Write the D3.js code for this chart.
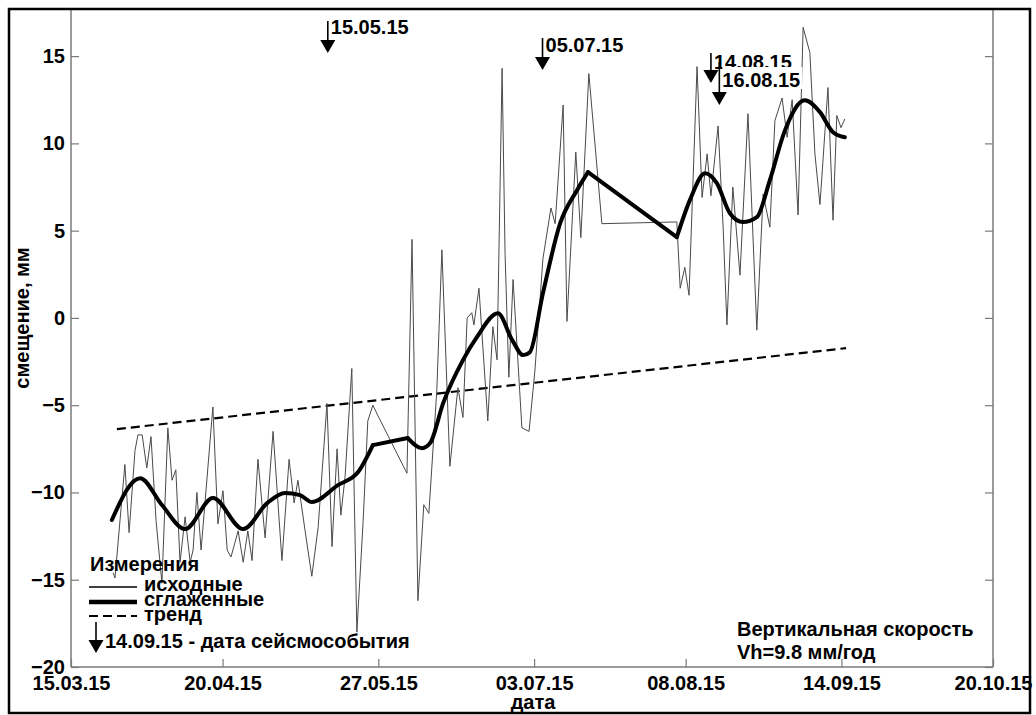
<!DOCTYPE html>
<html>
<head>
<meta charset="utf-8">
<script src="https://cdn.jsdelivr.net/npm/d3@7"></script>
<style>
  html, body { margin: 0; padding: 0; background: #fff; }
  svg text { font-family: "Liberation Sans", Arial, sans-serif; font-weight: bold; font-size: 20px; fill: #000; }
</style>
</head>
<body>
<svg id="chart" width="1036" height="715"></svg>
<script>
// Observation period start (day offsets below count from this date)
const startDay = "2015-03-15";

// Raw measurements: day offset and vertical displacement, mm
const rawDays = [10.0, 10.45, 12.8, 13.8, 15.2, 15.9, 16.9, 18.0, 19.0, 20.2, 21.6, 23.0, 24.0, 24.9, 25.9,
  27.1, 27.8, 28.3, 29.0, 29.9, 30.9, 33.7, 34.9, 36.1, 37.1, 38.0, 39.7, 40.9, 42.0, 43.0, 44.4, 46.1,
  48.0, 50.1, 51.8, 53.0, 53.9, 55.6, 57.2, 58.7, 60.8, 62.0, 63.2, 64.1, 65.1, 66.7, 67.9, 69.4, 70.5,
  71.7, 72.9, 79.8, 81.0, 82.4, 83.8, 85.0, 86.9, 88.1, 90.0, 91.9, 93.1, 94.1, 95.2, 95.7, 96.9, 99.0,
  100.2, 101.2, 102.4, 103.1, 104.0, 105.0, 107.1, 108.8, 110.2, 112.1, 114.0, 115.0, 116.9, 117.8,
  119.9, 121.1, 123.0, 126.1, 143.9, 144.7, 145.8, 146.8, 148.7, 149.9, 151.1, 152.0, 153.7, 154.9,
  155.8, 157.2, 158.9, 160.8, 162.9, 164.4, 166.0, 167.2, 168.9, 170.1, 171.3, 172.7, 173.9, 175.5,
  176.7, 177.9, 179.8, 181.0, 181.9, 182.9, 183.8];
const rawValues = [-14.6, -14.9, -8.4, -12.3, -7.6, -6.7, -6.7, -8.6, -6.8, -11.6, -15.2, -6.3, -9.3, -8.7, -14.0,
  -11.4, -12.9, -14.0, -13.3, -10.0, -13.3, -5.1, -11.8, -9.9, -13.3, -13.7, -12.2, -14.0, -12.2, -13.9, -8.1, -12.6,
  -6.5, -13.9, -8.1, -10.6, -9.3, -12.2, -14.8, -12.0, -4.9, -13.1, -7.5, -11.3, -9.1, -2.9, -18.0, -11.6, -5.9,
  -5.0, -5.6, -8.9, 4.5, -16.2, -10.7, -11.2, -4.1, 3.9, -8.5, -4.0, -5.7, 0.0, 0.3, -0.4, 1.7, -5.9,
  -0.5, -2.4, 14.3, 3.7, -3.4, 2.2, -6.3, -6.5, -3.0, 3.4, 6.3, 5.4, 12.2, -0.2,
  9.5, 4.6, 14.0, 5.4, 5.5, 1.7, 2.9, 1.3, 14.4, 6.9, 9.4, 7.0, 11.0, 5.2,
  -0.4, 7.5, 2.45, 11.7, -0.7, 7.1, 5.2, 11.3, 12.6, 10.35, 12.5, 5.9, 16.65, 15.2,
  9.4, 6.5, 13.2, 5.6, 11.6, 10.9, 11.4];

// Smoothed series
const smoothDays = [9.7, 16.4, 21.6, 27.1, 33.7, 40.9, 46.6, 50.8, 54.4, 57.2, 63.4, 68.2, 71.7, 80.0, 83.4,
  85.3, 88.4, 93.1, 96.4, 101.4, 104.8, 107.4, 109.0, 112.1, 116.2, 120.2, 122.8, 143.9, 147.0, 150.6,
  153.4, 156.5, 159.6, 162.9, 166.0, 169.6, 174.3, 177.9, 181.0, 183.8];
const smoothValues = [-11.58, -9.18, -10.72, -12.10, -10.32, -12.10, -10.61, -10.03, -10.15, -10.55, -9.58, -8.83,
  -7.29, -6.88, -7.46, -7.17, -4.88, -2.42, -1.10, 0.27, -1.27, -2.13, -1.96, 1.42, 5.43, 7.32, 8.35, 4.63,
  6.75, 8.29, 7.72, 6.00, 5.49, 5.77, 7.89, 10.76, 12.47, 11.79, 10.64, 10.35];

// Linear trend (9.8 mm/year)
const trendDays = [10.9, 184.1];
const trendValues = [-6.37, -1.73];

// Seismic event dates
const eventLabels = ["15.05.15", "05.07.15", "14.08.15", "16.08.15"];

// Axis ticks
const xTickLabels = ["15.03.15", "20.04.15", "27.05.15", "03.07.15", "08.08.15", "14.09.15", "20.10.15"];
const yTicks = [-20, -15, -10, -5, 0, 5, 10, 15];

// Legend entries and notes
const legendTitle = "Измерения";
const legendItems = ["исходные", "сглаженные", "тренд"];
const legendEvent = "14.09.15 - дата сейсмособытия";
const noteLines = ["Вертикальная скорость", "Vh=9.8 мм/год"];
const xTitle = "дата";
const yTitle = "смещение, мм";

const parseLabel = d3.utcParse("%d.%m.%y");
const fmt = d3.utcFormat("%d.%m.%y");
const t0 = d3.utcParse("%Y-%m-%d")(startDay).getTime();
const dayToDate = d => new Date(t0 + d * 864e5);

const svg = d3.select("#chart");
const L = 71, R = 993, T = 9, B = 667;

svg.append("rect").attr("width", 1036).attr("height", 715).attr("fill", "#fff");

const x = d3.scaleUtc()
  .domain([parseLabel(xTickLabels[0]), parseLabel(xTickLabels[xTickLabels.length - 1])])
  .range([L, R]);
const y = d3.scaleLinear().domain([-20, 17.7]).range([B, T]);

// Axes (ticks pointing inward)
const axisColor = "#7a7a7a";
const gx = svg.append("g").attr("transform", `translate(0,${B})`)
  .call(d3.axisBottom(x).tickValues(xTickLabels.map(parseLabel)).tickFormat(fmt)
    .tickSizeInner(-8).tickSizeOuter(0).tickPadding(9));
const gy = svg.append("g").attr("transform", `translate(${L},0)`)
  .call(d3.axisLeft(y).tickValues(yTicks).tickFormat(d3.format("d"))
    .tickSizeInner(-8).tickSizeOuter(0).tickPadding(6));
const gr = svg.append("g").attr("transform", `translate(${R},0)`)
  .call(d3.axisRight(y).tickValues(yTicks).tickFormat("")
    .tickSizeInner(-8).tickSizeOuter(0));
[gx, gy, gr].forEach(g => {
  g.selectAll("path.domain").attr("stroke", axisColor).attr("stroke-width", 1.5).attr("fill", "none");
  g.selectAll(".tick line").attr("stroke", axisColor).attr("stroke-width", 1.2);
  g.selectAll("text").attr("font-family", null).attr("font-size", null).attr("fill", "#000");
});
gy.select("path.domain").attr("d", `M0,${T}V${B}`);
gr.select("path.domain").attr("d", `M0,${T}V${B}`);
gx.select("path.domain").attr("d", `M${L},0H${R}`);

const px = d => x(dayToDate(d[0]));
const py = d => y(d[1]);

// Trend
svg.append("path")
  .datum(trendDays.map((d, i) => [d, trendValues[i]]))
  .attr("d", d3.line().x(px).y(py))
  .attr("fill", "none").attr("stroke", "#000").attr("stroke-width", 2.2)
  .attr("stroke-dasharray", "9,5");

// Raw measurements
svg.append("path")
  .datum(rawDays.map((d, i) => [d, rawValues[i]]))
  .attr("d", d3.line().x(px).y(py))
  .attr("fill", "none").attr("stroke", "#4a4a4a").attr("stroke-width", 1);

// Smoothed: curved within observation runs, straight across data gaps (> 8 days)
const smoothPts = smoothDays.map((d, i) => [d, smoothValues[i]]);
const runs = [[smoothPts[0]]];
for (let i = 1; i < smoothPts.length; i++) {
  if (smoothPts[i][0] - smoothPts[i - 1][0] > 8) runs.push([]);
  runs[runs.length - 1].push(smoothPts[i]);
}
const curveLine = d3.line().curve(d3.curveMonotoneX).x(px).y(py);
const straight = d3.line().x(px).y(py);
const sg = svg.append("g").attr("fill", "none").attr("stroke", "#000").attr("stroke-width", 4)
  .attr("stroke-linejoin", "round").attr("stroke-linecap", "round");
runs.forEach((run, k) => {
  sg.append("path").attr("d", curveLine(run));
  if (k < runs.length - 1) {
    sg.append("path").attr("d", straight([run[run.length - 1], runs[k + 1][0]]));
  }
});

// Arrow marker: shaft plus filled head
function arrow(g, cx, top, len) {
  const headH = 13, headW = 15;
  g.append("line").attr("x1", cx).attr("x2", cx).attr("y1", top).attr("y2", top + len - headH + 1)
    .attr("stroke", "#000").attr("stroke-width", 1.6);
  g.append("path")
    .attr("d", `M${cx - headW / 2},${top + len - headH}L${cx + headW / 2},${top + len - headH}L${cx},${top + len}Z`)
    .attr("fill", "#000");
}

const eventLayout = [
  { top: 21, len: 32, base: 34 },
  { top: 38, len: 32, base: 52 },
  { top: 53, len: 30, base: 69 },
  { top: 62, len: 43, base: 87 }
];
const ev = svg.append("g");
eventLabels.forEach((lab, i) => {
  const cx = x(parseLabel(lab));
  const lay = eventLayout[i];
  if (i === 3) {
    ev.append("rect").attr("x", cx + 3).attr("y", lay.base - 20).attr("width", 80).attr("height", 22)
      .attr("fill", "#fff");
  }
  arrow(ev, cx, lay.top, lay.len);
  ev.append("text").attr("x", cx + 3).attr("y", lay.base).text(lab);
});

// Axis titles
svg.append("text").attr("x", 533).attr("y", 709).attr("text-anchor", "middle").text(xTitle);
svg.append("text").attr("transform", "translate(29,318) rotate(-90)").attr("text-anchor", "middle").text(yTitle);

// Legend
const lg = svg.append("g");
lg.append("text").attr("x", 90).attr("y", 571).text(legendTitle);
const lineStyles = [
  { w: 1.5, dash: null, y: 587, ty: 591 },
  { w: 4.5, dash: null, y: 602, ty: 606 },
  { w: 2, dash: "9,5", y: 616, ty: 621 }
];
legendItems.forEach((name, i) => {
  const s = lineStyles[i];
  lg.append("line").attr("x1", 89).attr("x2", 137).attr("y1", s.y).attr("y2", s.y)
    .attr("stroke", "#000").attr("stroke-width", s.w).attr("stroke-dasharray", s.dash);
  lg.append("text").attr("x", 144).attr("y", s.ty).text(name);
});
arrow(lg, 96, 622, 31);
lg.append("text").attr("x", 105).attr("y", 648).text(legendEvent);

// Velocity note
noteLines.forEach((t, i) => {
  svg.append("text").attr("x", 737).attr("y", 636 + i * 23).text(t);
});

// Outer frame
svg.append("rect").attr("x", 9).attr("y", 9).attr("width", 1021).attr("height", 704)
  .attr("fill", "none").attr("stroke", "#000").attr("stroke-width", 2.5);
</script>
</body>
</html>
